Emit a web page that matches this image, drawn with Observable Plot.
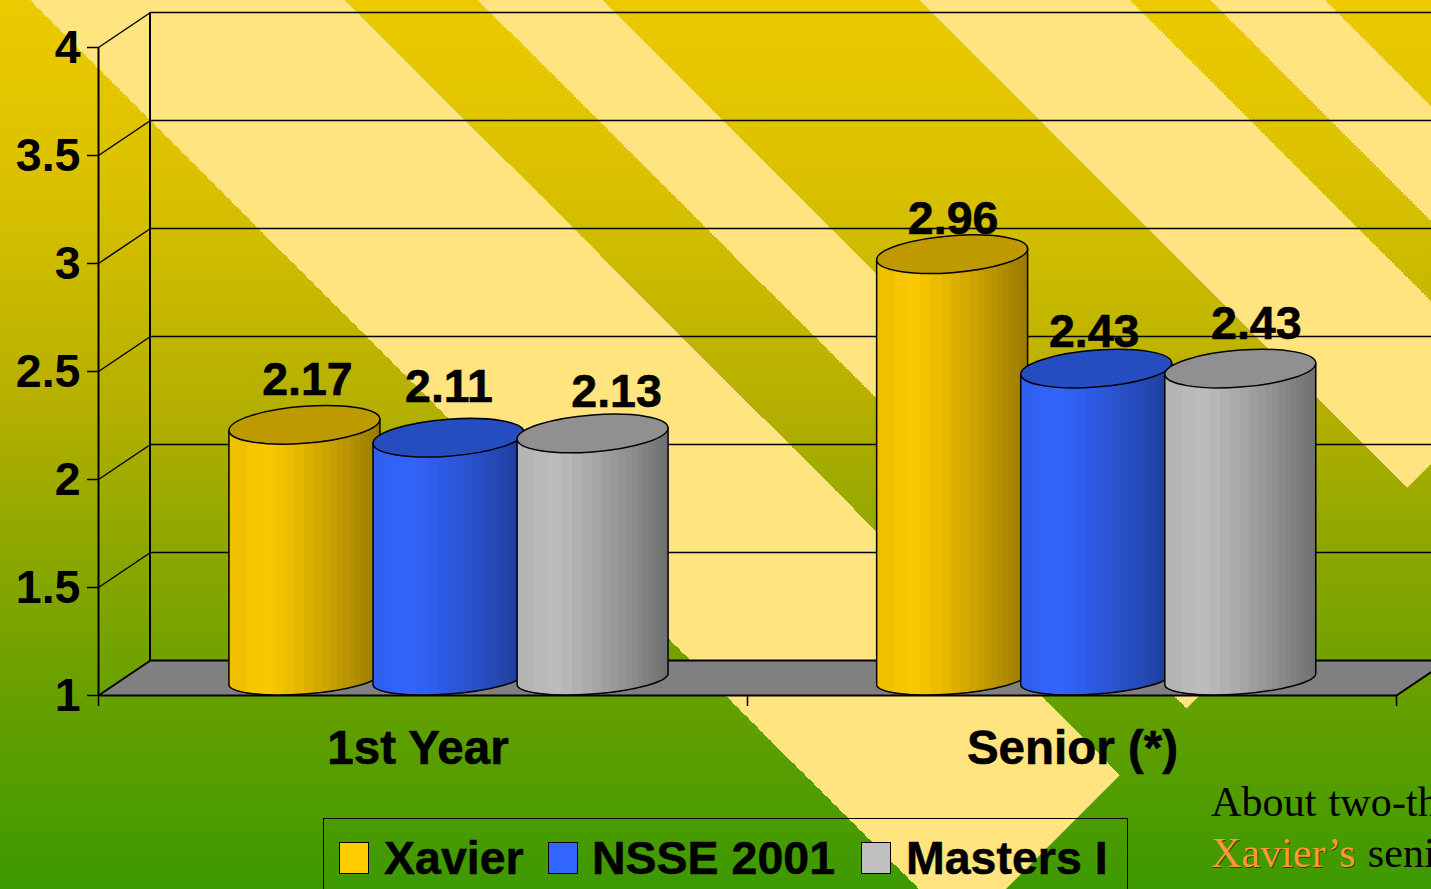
<!DOCTYPE html>
<html>
<head>
<meta charset="utf-8">
<script src="https://cdn.jsdelivr.net/npm/d3@7"></script>
<script src="https://cdn.jsdelivr.net/npm/@observablehq/plot@0.6"></script>
<style>
  html, body { margin: 0; padding: 0; width: 1431px; height: 889px; overflow: hidden; }
  #stage { position: relative; width: 1431px; height: 889px; overflow: hidden;
           background: linear-gradient(180deg, #EDCA00 0px, #DAC100 180px, #B6B000 400px, #92A800 530px, #66A000 700px, #3C9900 889px); }
  #stripes, #chart { position: absolute; left: 0; top: 0; width: 1431px; height: 889px; }
  #stripes { clip-path: polygon(0 0, 1431px 0, 1431px 464px, 1006px 889px, 0 889px); }
  #legend { position: absolute; left: 323px; top: 818px; width: 805px; height: 120px;
            border: 1.5px solid #000; box-sizing: border-box; }
  .li { position: absolute; top: 16px; font: bold 46.5px/46px "Liberation Sans", sans-serif; color: #000; white-space: nowrap; -webkit-text-stroke: 0.5px #000; }
  .sw { position: absolute; top: 23px; width: 30px; height: 32px; box-sizing: border-box; border: 1.5px solid #000; }
  #note { position: absolute; left: 1211px; top: 777px; width: 220px; overflow: hidden;
          font: 42px/51px "Liberation Serif", serif; color: #000; white-space: nowrap; word-spacing: 1.5px; letter-spacing: 0.1px; }
  #note span { color: #FF9933; text-shadow: 1px 1px 0 rgba(0, 0, 0, 0.55); }
</style>
</head>
<body>
<div id="stage">
  <div id="stripes"></div>
  <div id="chart"></div>
  <div id="legend"></div>
  <div id="note">About two-th<br><span>Xavier’s</span> seni</div>
</div>
<script>
// ---- data ----
const groups = ["1st Year", "Senior (*)"];
const seriesNames = ["Xavier", "NSSE 2001", "Masters I"];
const xavier = [2.17, 2.96];
const nsse = [2.11, 2.43];
const masters = [2.13, 2.43];
const yTicks = [1, 1.5, 2, 2.5, 3, 3.5, 4];
const gridValues = [1.5, 2, 2.5, 3, 3.5, 4];
const xBoundaries = [0, 1, 2];

// ---- styling and layout constants ----
const FONT = '"Liberation Sans", Arial, sans-serif';
const light = ["#FFCC00", "#3366FF", "#C0C0C0"];
const dark = ["#967800", "#1E3C96", "#6E6E6E"];
const capFill = ["#BF9900", "#264DBF", "#909090"];
const depthX = 52 / 649, depthY = 35 / 216;        // oblique depth in data units
const tickLen = 11 / 216;
const groupCenter = [0.5, 1.498];
const seriesOffset = [-0.222, 0, 0.222];
const halfWidth = 0.1163;
const labelDx = [[2.5, 0, 23.5], [0.5, -2.5, 15.5]];
const labelDy = [[-63, -69, -59], [-53, -55, -63]];
const groupDx = [-5, 0.5];

const seriesValues = [xavier, nsse, masters];
const records = groups.flatMap((g, gi) => seriesNames.map((s, si) => ({
  g, gi, s, si, value: seriesValues[si][gi],
  cx: groupCenter[gi] + seriesOffset[si] + depthX / 2
})));
const groupRows = groups.map((name, i) => ({name, pos: i + 0.5, base: 1}));

// ---- pale diagonal stripes behind the chart ----
const bands = [[30, 345], [478, 602], [919, 1130], [1210, 1325]];
const toPx = k => (k + 889) / Math.SQRT2;
const stops = ["transparent 0"];
bands.forEach(([a, b]) => stops.push(`transparent ${toPx(a)}px`, `#FFE480 ${toPx(a)}px`, `#FFE480 ${toPx(b)}px`, `transparent ${toPx(b)}px`));
document.getElementById("stripes").style.background = `linear-gradient(45deg, ${stops.join(",")})`;

// ---- cylinders, placed through the plot's own scales ----
function cylinders(index, scales) {
  const {x, y} = scales;
  const g = d3.create("svg:g");
  const defs = g.append("defs");
  seriesNames.forEach((_, si) => {
    const grad = defs.append("linearGradient").attr("id", `cyl${si}`);
    const mix = d3.interpolateRgb(light[si], dark[si]);
    const n = 22;
    let prev = 0;
    for (let i = 0; i < n; i++) {
      // bands narrow towards the right edge, as on a faceted cylinder
      const next = Math.sin(((i + 1) / n) * Math.PI / 2) ** 0.8;
      const shade = i < 2 ? (0.14 - i * 0.07) : Math.pow(Math.max(0, (prev - 0.14) / 0.86), 1.25);
      const col = mix(shade);
      grad.append("stop").attr("offset", prev).attr("stop-color", col);
      grad.append("stop").attr("offset", next).attr("stop-color", col);
      prev = next;
    }
  });
  const shear = -4.2;
  records.forEach(d => {
    const cx = x(d.cx);
    const rx = x(d.cx + halfWidth) - cx;
    const top = y(d.value + depthY / 2);
    const bottom = y(1 + depthY / 2);
    const h = bottom - top;
    const item = g.append("g")
      .attr("transform", `translate(${cx},${top}) skewY(${shear})`)
      .attr("stroke", "#000").attr("stroke-width", 1.5).attr("stroke-linejoin", "round");
    item.append("path")
      .attr("d", `M${-rx},0 L${-rx},${h + 1.5} A${rx},15 0 0 0 ${rx},${h + 1.5} L${rx},0 Z`)
      .attr("fill", `url(#cyl${d.si})`);
    item.append("ellipse").attr("rx", rx).attr("ry", 18.5).attr("fill", capFill[d.si]);
  });
  return g.node();
}

// ---- chart ----
const floor = [[0, 1], [2, 1], [2 + depthX, 1 + depthY], [depthX, 1 + depthY], [0, 1]];
const textStyle = {fontFamily: FONT, fontWeight: "bold", fontSize: 46.5, fill: "#000", stroke: "#000", strokeWidth: 0.6, textAnchor: "middle", lineAnchor: "middle"};

const chart = Plot.plot({
  width: 1431, height: 889,
  marginLeft: 98, marginRight: 35, marginTop: 47, marginBottom: 194,
  style: {background: "transparent", overflow: "hidden"},
  x: {type: "linear", domain: [0, 2], axis: null},
  y: {type: "linear", domain: [1, 4]},
  marks: [
    // floor
    Plot.line(floor, {x: d => d[0], y: d => d[1], fill: "#808080", stroke: "#000", strokeWidth: 2, curve: "linear"}),
    // back wall gridlines and wall-side links
    Plot.ruleY(gridValues, {y: d => d + depthY, x1: depthX, x2: 2 + depthX, stroke: "#000", strokeWidth: 1.3}),
    Plot.link(gridValues, {x1: 0, x2: depthX, y1: d => d, y2: d => d + depthY, stroke: "#000", strokeWidth: 1.5}),
    Plot.ruleX([depthX], {y1: 1 + depthY, y2: 4 + depthY, stroke: "#000", strokeWidth: 2, dx: -0.5}),
    Plot.ruleX([0], {y1: 1, y2: 4, stroke: "#000", strokeWidth: 2}),
    // y axis ticks, then labels
    Plot.axisY({ticks: yTicks, tickSize: 11, text: null, label: null, stroke: "#000", strokeWidth: 1.5}),
    Plot.axisY({ticks: yTicks, tickSize: 0, tickPadding: 17, label: null, dx: -1, dy: 1,
      fontSize: 46.5, fontWeight: "bold", fontFamily: FONT, fill: "#000", stroke: "#000", strokeWidth: 0.6, color: "#000", tickFormat: d => String(d)}),
    Plot.ruleX(xBoundaries, {y1: 1, y2: 1 - tickLen, stroke: "#000", strokeWidth: 1.5}),
    cylinders,
    // category labels
    ...groupRows.map((r, i) => Plot.text([r], {x: "pos", y: "base", text: "name", dx: groupDx[i], dy: 53.5, ...textStyle, fontSize: 47.5})),
    // value labels
    ...records.map(d => Plot.text([d], {x: "cx", y: "value", text: r => String(r.value), dx: labelDx[d.gi][d.si], dy: labelDy[d.gi][d.si], ...textStyle}))
  ]
});
document.getElementById("chart").appendChild(chart);

// ---- legend ----
const legend = document.getElementById("legend");
const swatchLeft = [15, 224, 537];
const textLeft = [60, 268, 582];
seriesNames.forEach((name, i) => {
  const sw = document.createElement("div");
  sw.className = "sw"; sw.style.left = swatchLeft[i] + "px"; sw.style.background = light[i];
  const t = document.createElement("div");
  t.className = "li"; t.style.left = textLeft[i] + "px"; t.textContent = name;
  legend.append(sw, t);
});
</script>
</body>
</html>
